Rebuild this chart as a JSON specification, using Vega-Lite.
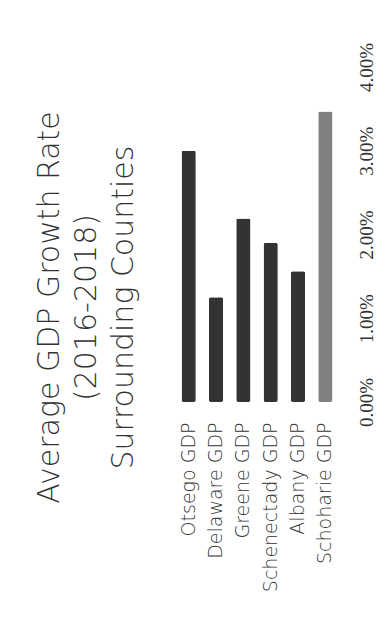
{
  "$schema": "https://vega.github.io/schema/vega-lite/v6.json",
  "autosize": {"type": "none"},
  "padding": {"left": 175, "top": 67, "right": 47, "bottom": 222},
  "width": 164,
  "height": 335,
  "background": "white",
  "title": {
    "text": ["Average GDP Growth Rate", "(2016-2018)", "Surrounding Counties"],
    "orient": "left",
    "anchor": "middle",
    "frame": "group",
    "offset": 36,
    "dx": -73,
    "font": "DejaVu Sans",
    "fontSize": 30,
    "fontWeight": 200,
    "lineHeight": 37,
    "color": "#333333"
  },
  "data": {
    "values": [
      {"County": "Otsego GDP", "Rate": 0.0300},
      {"County": "Delaware GDP", "Rate": 0.0125},
      {"County": "Greene GDP", "Rate": 0.0219},
      {"County": "Schenectady GDP", "Rate": 0.0190},
      {"County": "Albany GDP", "Rate": 0.0156},
      {"County": "Schoharie GDP", "Rate": 0.0347}
    ]
  },
  "mark": {"type": "bar", "cornerRadius": 2},
  "encoding": {
    "x": {
      "field": "County",
      "type": "nominal",
      "sort": null,
      "scale": {"paddingInner": 0.48, "paddingOuter": 0.24},
      "axis": {
        "title": null,
        "orient": "bottom",
        "labelAngle": -90,
        "labelAlign": "right",
        "labelBaseline": "middle",
        "labelPadding": 20,
        "ticks": false,
        "tickSize": 0,
        "domain": false,
        "labelFont": "DejaVu Sans",
        "labelFontWeight": 200,
        "labelFontSize": 19,
        "labelColor": "#333333"
      }
    },
    "y": {
      "field": "Rate",
      "type": "quantitative",
      "scale": {"domain": [0, 0.04], "nice": false},
      "axis": {
        "title": null,
        "orient": "right",
        "values": [0, 0.01, 0.02, 0.03, 0.04],
        "format": ".2%",
        "grid": false,
        "domain": false,
        "ticks": false,
        "tickSize": 0,
        "labelAngle": -90,
        "labelAlign": "center",
        "labelBaseline": "top",
        "labelPadding": 18,
        "labelFont": "Liberation Serif",
        "labelFontSize": 19,
        "labelColor": "#333333"
      }
    },
    "color": {
      "field": "County",
      "type": "nominal",
      "legend": null,
      "scale": {
        "domain": ["Otsego GDP", "Delaware GDP", "Greene GDP", "Schenectady GDP", "Albany GDP", "Schoharie GDP"],
        "range": ["#333333", "#333333", "#333333", "#333333", "#333333", "#808080"]
      }
    }
  },
  "config": {"view": {"stroke": null}}
}
